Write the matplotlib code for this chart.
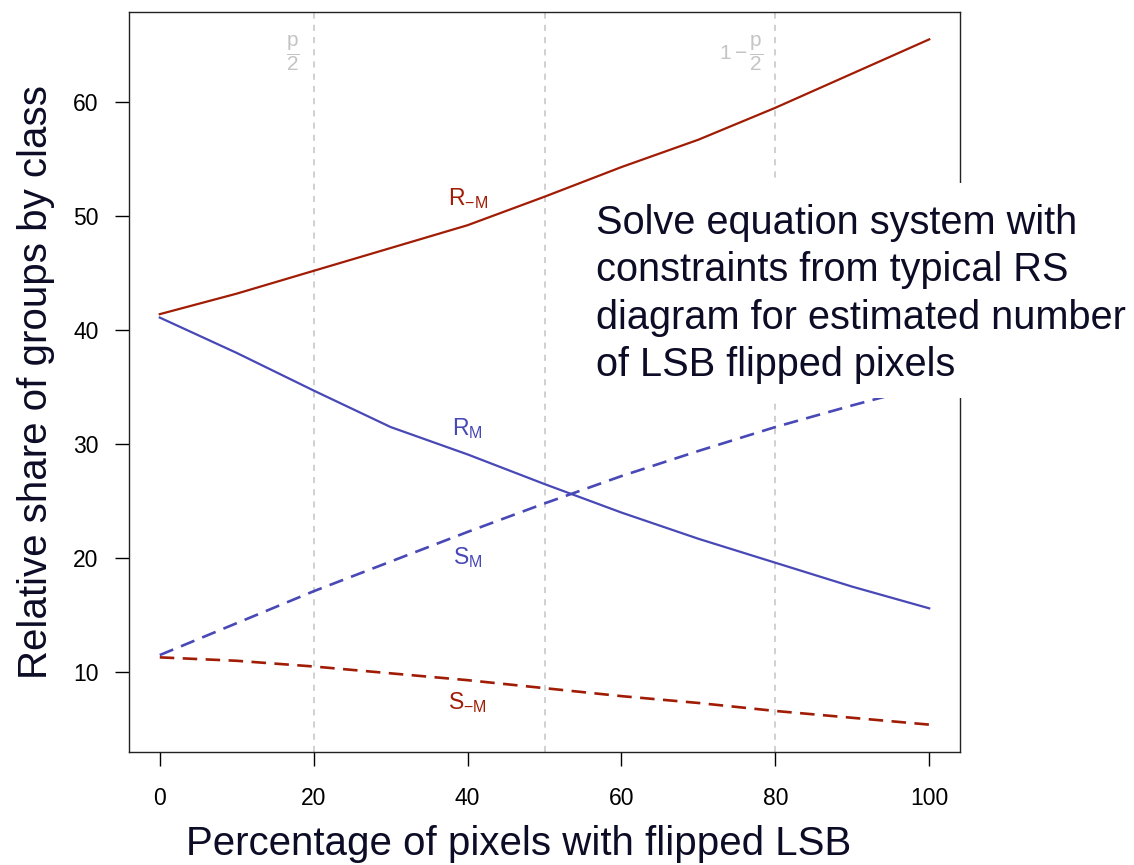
import matplotlib
matplotlib.use("Agg")
import matplotlib.pyplot as plt
from matplotlib.patches import Rectangle

plt.rcParams['font.family'] = ['Liberation Sans', 'DejaVu Sans']
plt.rcParams['mathtext.fontset'] = 'custom'
plt.rcParams['mathtext.rm'] = 'Liberation Sans'
plt.rcParams['mathtext.it'] = 'Liberation Sans'
plt.rcParams['mathtext.sf'] = 'Liberation Sans'

# Percentage of pixels with flipped LSB
flipped_pct = [0, 10, 20, 30, 40, 50, 60, 70, 80, 90, 100]

# Relative share of groups (%) per class
r_neg_m = [41.4, 43.2, 45.2, 47.2, 49.2, 51.7, 54.3, 56.7, 59.5, 62.5, 65.5]
r_m = [41.1, 38.0, 34.7, 31.5, 29.1, 26.5, 24.0, 21.7, 19.6, 17.5, 15.6]
s_m = [11.5, 14.3, 17.1, 19.7, 22.3, 24.8, 27.2, 29.4, 31.5, 33.4, 35.2]
s_neg_m = [11.3, 11.0, 10.5, 9.9, 9.3, 8.6, 7.9, 7.3, 6.6, 6.0, 5.4]

x_ticks = [0, 20, 40, 60, 80, 100]
y_ticks = [10, 20, 30, 40, 50, 60]
marker_lines = [20, 50, 80]

RED = '#A11C05'
BLUE = '#4848B6'
GRAY = '#c4c4c4'
INK = '#0c0c26'

fig = plt.figure(figsize=(11.34, 8.65), dpi=100)
ax = fig.add_axes([129 / 1134, 1 - 752 / 865, (960 - 129) / 1134, (752 - 12) / 865])

for xv in marker_lines:
    ax.axvline(xv, color=GRAY, lw=1.1, dashes=(4, 4), zorder=1)

ax.plot(flipped_pct, r_neg_m, color=RED, lw=1.6, zorder=3)
ax.plot(flipped_pct, r_m, color=BLUE, lw=1.6, zorder=3)
ax.plot(flipped_pct, s_m, color=BLUE, lw=1.9, dashes=(5.5, 3.2), zorder=3)
ax.plot(flipped_pct, s_neg_m, color=RED, lw=1.9, dashes=(5.5, 3.2), zorder=3)

lab_kw = dict(fontsize=16.5, ha='center', va='baseline', zorder=4)
ax.text(40, 51.0, r'$\mathregular{R_{-M}}$', color=RED, **lab_kw)
ax.text(40, 30.8, r'$\mathregular{R_{M}}$', color=BLUE, **lab_kw)
ax.text(40, 19.5, r'$\mathregular{S_{M}}$', color=BLUE, **lab_kw)
ax.text(40, 6.8, r'$\mathregular{S_{-M}}$', color=RED, **lab_kw)

ax.text(17.3, 64.3, r'$\mathregular{\dfrac{p}{2}}$', color=GRAY, fontsize=15,
        ha='center', va='center')
ax.text(75.6, 64.3, r'$\mathregular{1-\dfrac{p}{2}}$', color=GRAY, fontsize=15,
        ha='center', va='center')

ax.set_xlim(-4, 104)
ax.set_ylim(3.0, 67.9)
ax.set_xticks(x_ticks)
ax.set_yticks(y_ticks)
ax.tick_params(axis='both', length=10, width=1, labelsize=16.5, colors='black', pad=12)
ax.tick_params(axis='x', pad=15.5)
for s in ax.spines.values():
    s.set_linewidth(1.0)
    s.set_color('#222222')

ax.set_xlabel('Percentage of pixels with flipped LSB', fontsize=29, color=INK)
ax.set_ylabel('Relative share of groups by class', fontsize=29, color=INK)
ax.xaxis.set_label_coords(0.4685, -0.098)
ax.yaxis.set_label_coords(-0.089, 0.5)

# white callout panel laid over the plot's right edge
fig.patches.append(Rectangle((583 / 1134, 1 - 398 / 865), (1134 - 583) / 1134, (398 - 183) / 865,
                             transform=fig.transFigure, facecolor='white', edgecolor='none',
                             zorder=5))
fig.text(596 / 1134, 1 - 294 / 865,
         'Solve equation system with\nconstraints from typical RS\n'
         'diagram for estimated number\nof LSB flipped pixels',
         fontsize=28.6, color=INK, ha='left', va='center', linespacing=1.31, zorder=6)

fig.savefig('out.png', dpi=100)
